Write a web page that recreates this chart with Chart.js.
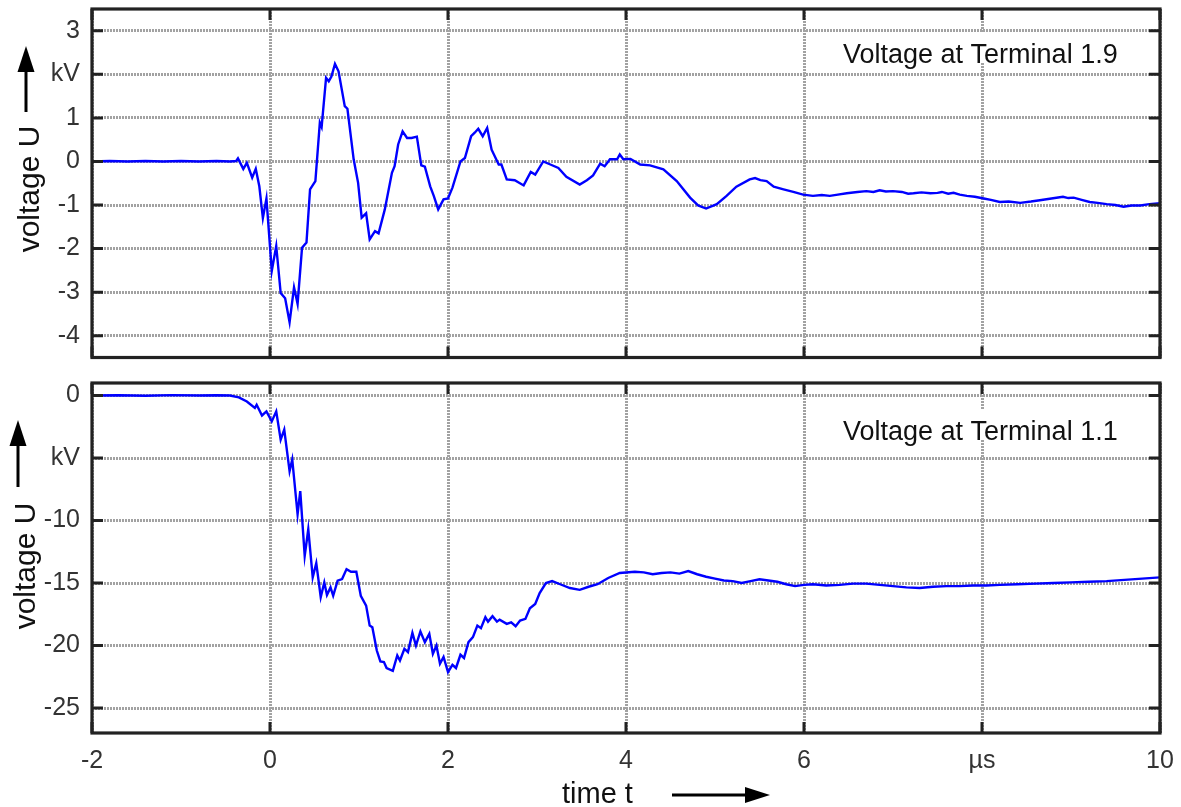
<!DOCTYPE html>
<html>
<head>
<meta charset="utf-8">
<title>Terminal voltages</title>
<script src="https://cdn.jsdelivr.net/npm/chart.js@4.4.1/dist/chart.umd.min.js"></script>
<style>
  html, body { margin: 0; background: #fff; }
  #wrap { position: relative; width: 1181px; height: 807px; }
  canvas { position: absolute; left: 0; }
  #top { top: 0; }
  #bottom { top: 370px; }
</style>
</head>
<body>
<div id="wrap">
  <canvas id="top" width="1181" height="370"></canvas>
  <canvas id="bottom" width="1181" height="437"></canvas>
</div>
<script>
// time axis (µs), shared by both panels
const xTicks = [-2, 0, 2, 4, 6, 8, 10];
const xTickLabels = ["-2", "0", "2", "4", "6", "µs", "10"];

// terminal 1.9 (kV)
const yTicksTop = [3, 2, 1, 0, -1, -2, -3, -4];
const yTickLabelsTop = ["3", "kV", "1", "0", "-1", "-2", "-3", "-4"];
const tTop = [
  -2.00, -1.80, -1.60, -1.40, -1.20, -1.00, -0.80, -0.60, -0.45, -0.38,
  -0.36, -0.30, -0.26, -0.20, -0.16, -0.12, -0.08, -0.04, 0.02, 0.07,
  0.12, 0.17, 0.22, 0.27, 0.31, 0.36, 0.41, 0.45, 0.51, 0.56,
  0.58, 0.63, 0.66, 0.69, 0.73, 0.77, 0.84, 0.87, 0.94, 0.99,
  1.03, 1.08, 1.12, 1.18, 1.22, 1.29, 1.37, 1.40, 1.44, 1.49,
  1.54, 1.59, 1.65, 1.70, 1.74, 1.80, 1.84, 1.89, 1.95, 2.00,
  2.05, 2.14, 2.19, 2.26, 2.30, 2.34, 2.39, 2.44, 2.49, 2.57,
  2.60, 2.66, 2.75, 2.85, 2.93, 2.98, 3.07, 3.15, 3.24, 3.33,
  3.48, 3.56, 3.63, 3.71, 3.76, 3.82, 3.90, 3.93, 3.97, 4.05,
  4.16, 4.27, 4.42, 4.57, 4.72, 4.81, 4.90, 5.02, 5.13, 5.24,
  5.39, 5.45, 5.51, 5.58, 5.66, 5.77, 5.88, 5.99, 6.10, 6.20,
  6.29, 6.38, 6.48, 6.60, 6.70, 6.78, 6.85, 6.92, 7.00, 7.10,
  7.17, 7.23, 7.32, 7.42, 7.50, 7.55, 7.62, 7.68, 7.75, 7.83,
  7.92, 8.02, 8.10, 8.20, 8.30, 8.43, 8.55, 8.65, 8.78, 8.91,
  8.97, 9.03, 9.12, 9.21, 9.30, 9.40, 9.50, 9.59, 9.68, 9.78,
  9.88, 10.00
];
const vTop = [
  0.00, 0.01, 0.00, 0.01, 0.00, 0.01, 0.00, 0.01, 0.00, 0.01,
  0.07, -0.17, -0.03, -0.37, -0.17, -0.57, -1.30, -0.85, -2.51, -1.94,
  -3.02, -3.14, -3.69, -2.89, -3.27, -1.98, -1.86, -0.64, -0.45, 0.89,
  0.79, 1.92, 1.84, 1.95, 2.24, 2.07, 1.27, 1.21, 0.05, -0.49,
  -1.29, -1.19, -1.79, -1.60, -1.65, -1.10, -0.26, -0.11, 0.39, 0.69,
  0.54, 0.54, 0.57, -0.09, -0.12, -0.57, -0.79, -1.10, -0.87, -0.85,
  -0.60, 0.00, 0.08, 0.58, 0.66, 0.75, 0.58, 0.77, 0.27, -0.07,
  -0.07, -0.41, -0.43, -0.55, -0.24, -0.30, 0.00, -0.07, -0.15, -0.35,
  -0.53, -0.43, -0.32, -0.05, -0.11, 0.05, 0.05, 0.16, 0.05, 0.06,
  -0.07, -0.09, -0.18, -0.45, -0.83, -1.01, -1.08, -0.98, -0.79, -0.58,
  -0.41, -0.38, -0.43, -0.45, -0.58, -0.64, -0.70, -0.76, -0.79, -0.77,
  -0.79, -0.76, -0.73, -0.70, -0.68, -0.70, -0.66, -0.69, -0.68, -0.70,
  -0.74, -0.73, -0.71, -0.73, -0.72, -0.70, -0.74, -0.72, -0.76, -0.79,
  -0.81, -0.85, -0.88, -0.93, -0.92, -0.95, -0.92, -0.89, -0.85, -0.81,
  -0.84, -0.83, -0.88, -0.93, -0.95, -0.98, -1.00, -1.04, -1.01, -1.01,
  -0.98, -0.96
];

// terminal 1.1 (kV)
const yTicksBottom = [0, -5, -10, -15, -20, -25];
const yTickLabelsBottom = ["0", "kV", "-10", "-15", "-20", "-25"];
const tBottom = [
  -2.00, -1.70, -1.40, -1.10, -0.80, -0.60, -0.45, -0.35, -0.26, -0.17,
  -0.15, -0.09, -0.04, 0.02, 0.07, 0.12, 0.16, 0.22, 0.25, 0.31,
  0.34, 0.39, 0.43, 0.48, 0.52, 0.57, 0.61, 0.64, 0.68, 0.71,
  0.76, 0.81, 0.86, 0.91, 0.97, 1.02, 1.08, 1.12, 1.15, 1.20,
  1.24, 1.28, 1.31, 1.38, 1.43, 1.46, 1.51, 1.55, 1.60, 1.64,
  1.69, 1.74, 1.79, 1.83, 1.87, 1.91, 1.95, 2.00, 2.05, 2.09,
  2.14, 2.18, 2.23, 2.28, 2.33, 2.37, 2.42, 2.45, 2.50, 2.55,
  2.58, 2.66, 2.71, 2.76, 2.81, 2.87, 2.92, 2.98, 3.03, 3.10,
  3.17, 3.26, 3.37, 3.48, 3.58, 3.68, 3.80, 3.93, 4.10, 4.20,
  4.30, 4.40, 4.50, 4.60, 4.70, 4.80, 4.90, 5.00, 5.10, 5.20,
  5.30, 5.40, 5.50, 5.60, 5.70, 5.80, 5.90, 6.00, 6.10, 6.25,
  6.40, 6.55, 6.70, 6.85, 7.00, 7.15, 7.30, 7.45, 7.60, 7.75,
  7.90, 8.05, 8.20, 8.40, 8.60, 8.80, 9.00, 9.20, 9.40, 9.60,
  9.80, 10.00
];
const vBottom = [
  0.00, 0.02, -0.02, 0.03, 0.00, 0.02, 0.00, -0.15, -0.48, -1.00,
  -0.74, -1.60, -1.27, -2.07, -1.27, -3.53, -2.73, -6.06, -5.12, -9.50,
  -7.65, -12.83, -10.70, -14.55, -13.41, -16.14, -14.95, -15.96, -15.35, -16.02,
  -14.82, -14.68, -13.89, -14.10, -14.10, -16.02, -16.81, -18.41, -18.54, -20.40,
  -21.27, -21.32, -21.80, -22.02, -20.80, -21.20, -20.26, -20.53, -18.99, -20.00,
  -18.88, -19.73, -19.07, -20.66, -20.00, -21.46, -20.92, -22.12, -21.54, -21.80,
  -20.74, -21.00, -19.73, -19.33, -18.41, -18.61, -17.74, -18.09, -17.66, -18.09,
  -17.93, -18.27, -18.14, -18.46, -18.00, -17.87, -17.02, -16.68, -15.80, -15.00,
  -14.85, -15.10, -15.40, -15.55, -15.30, -15.10, -14.60, -14.20, -14.10, -14.15,
  -14.30, -14.20, -14.15, -14.25, -14.05, -14.30, -14.50, -14.65, -14.80, -14.85,
  -15.00, -14.85, -14.70, -14.80, -14.90, -15.10, -15.25, -15.15, -15.10, -15.20,
  -15.15, -15.05, -15.05, -15.15, -15.25, -15.35, -15.40, -15.30, -15.25, -15.25,
  -15.20, -15.20, -15.15, -15.10, -15.05, -15.00, -14.95, -14.90, -14.85, -14.75,
  -14.65, -14.55
];

const FONT = "'Liberation Sans', Arial, sans-serif";
const GRID = "#a2a2a2";
const INK = "#222";

// heavy frame with short inward tick marks on all four sides
const framePlugin = {
  id: "frame",
  afterDraw(chart) {
    const { ctx, chartArea: a, scales } = chart;
    const len = 11;
    ctx.save();
    ctx.strokeStyle = INK;
    ctx.lineWidth = 3;
    ctx.lineCap = "butt";
    ctx.beginPath();
    scales.x.ticks.forEach(tk => {
      const px = scales.x.getPixelForValue(tk.value);
      ctx.moveTo(px, a.top); ctx.lineTo(px, a.top + len);
      ctx.moveTo(px, a.bottom); ctx.lineTo(px, a.bottom - len);
    });
    scales.y.ticks.forEach(tk => {
      const py = scales.y.getPixelForValue(tk.value);
      ctx.moveTo(a.left, py); ctx.lineTo(a.left + len, py);
      ctx.moveTo(a.right, py); ctx.lineTo(a.right - len, py);
    });
    ctx.stroke();
    ctx.lineWidth = 3.2;
    ctx.strokeRect(a.left, a.top, a.right - a.left, a.bottom - a.top);
    ctx.restore();
  }
};

function arrow(ctx, x1, y1, x2, y2, head, half) {
  const ang = Math.atan2(y2 - y1, x2 - x1);
  const bx = x2 - head * Math.cos(ang), by = y2 - head * Math.sin(ang);
  ctx.beginPath();
  ctx.moveTo(x1, y1);
  ctx.lineTo(bx, by);
  ctx.lineWidth = 3;
  ctx.strokeStyle = "#000";
  ctx.stroke();
  ctx.beginPath();
  ctx.moveTo(x2, y2);
  ctx.lineTo(bx - half * Math.sin(ang), by + half * Math.cos(ang));
  ctx.lineTo(bx + half * Math.sin(ang), by - half * Math.cos(ang));
  ctx.closePath();
  ctx.fillStyle = "#000";
  ctx.fill();
}

// axis titles, arrows and the panel caption
const labelPlugin = {
  id: "labels",
  beforeDatasetsDraw(chart, args, o) {
    const { ctx } = chart;
    ctx.save();
    ctx.font = "27px " + FONT;
    const w = ctx.measureText(o.caption).width;
    ctx.fillStyle = "#fff";
    ctx.fillRect(o.captionX - 2, o.captionY - 31, w + 4, 30);
    ctx.fillStyle = "#111";
    ctx.textBaseline = "alphabetic";
    ctx.fillText(o.caption, o.captionX, o.captionY);
    ctx.restore();
  },
  afterDraw(chart, args, o) {
    const { ctx } = chart;
    ctx.save();
    ctx.fillStyle = "#111";
    ctx.font = "30px " + FONT;
    ctx.translate(o.yTitleX, o.yTitleY);
    ctx.rotate(-Math.PI / 2);
    ctx.textAlign = "center";
    ctx.textBaseline = "middle";
    ctx.fillText("voltage U", 0, 0);
    ctx.restore();
    ctx.save();
    arrow(ctx, o.arrowX, o.arrowTail, o.arrowX, o.arrowTip, 26, 8.5);
    if (o.xTitle) {
      ctx.fillStyle = "#111";
      ctx.font = "29px " + FONT;
      ctx.textAlign = "left";
      ctx.textBaseline = "alphabetic";
      ctx.fillText("time t", 562, o.xTitleY);
      arrow(ctx, 672, o.xArrowY, 770, o.xArrowY, 25, 8);
    }
    ctx.restore();
  }
};

function panel(id, t, v, yMin, yMax, yTicks, yLabels, showX, padding, labels) {
  const points = t.map((x, i) => ({ x, y: v[i] }));
  return new Chart(document.getElementById(id), {
    type: "line",
    data: {
      datasets: [{
        data: points,
        borderColor: "#0000ff",
        borderWidth: 2.4,
        pointRadius: 0,
        tension: 0,
        fill: false
      }]
    },
    options: {
      responsive: false,
      animation: false,
      layout: { padding },
      plugins: {
        legend: { display: false },
        tooltip: { enabled: false },
        labels
      },
      scales: {
        x: {
          type: "linear",
          min: -2,
          max: 10,
          afterBuildTicks: s => { s.ticks = xTicks.map(value => ({ value })); },
          afterFit: s => {
            s.height = showX ? 74 : 0;
            s.paddingLeft = 0;
            s.paddingRight = 0;
          },
          ticks: {
            display: showX,
            autoSkip: false,
            maxRotation: 0,
            padding: 13,
            color: "#333",
            font: { family: FONT, size: 25 },
            callback: (val, i) => xTickLabels[i]
          },
          grid: { color: GRID, lineWidth: 3, drawTicks: false },
          border: { display: false, dash: [2, 1] }
        },
        y: {
          min: yMin,
          max: yMax,
          afterBuildTicks: s => { s.ticks = yTicks.map(value => ({ value })); },
          afterFit: s => {
            s.width = 92;
            s.paddingTop = 0;
            s.paddingBottom = 0;
          },
          ticks: {
            padding: 12,
            color: "#333",
            font: { family: FONT, size: 25 },
            callback: (val, i) => yLabels[i]
          },
          grid: { color: GRID, lineWidth: 3, drawTicks: false },
          border: { display: false, dash: [2, 1] }
        }
      }
    },
    plugins: [labelPlugin, framePlugin]
  });
}

panel("top", tTop, vTop, -4.5, 3.5, yTicksTop, yTickLabelsTop, false,
  { left: 0, right: 21, top: 9, bottom: 12.5 },
  { caption: "Voltage at Terminal 1.9", captionX: 843, captionY: 63,
    yTitleX: 31, yTitleY: 189, arrowX: 26, arrowTail: 112, arrowTip: 46 });

panel("bottom", tBottom, vBottom, -27, 1, yTicksBottom, yTickLabelsBottom, true,
  { left: 0, right: 21, top: 13, bottom: 0 },
  { caption: "Voltage at Terminal 1.1", captionX: 843, captionY: 70,
    yTitleX: 27, yTitleY: 196, arrowX: 18, arrowTail: 117, arrowTip: 50,
    xTitle: true, xTitleY: 433, xArrowY: 425 });
</script>
</body>
</html>
